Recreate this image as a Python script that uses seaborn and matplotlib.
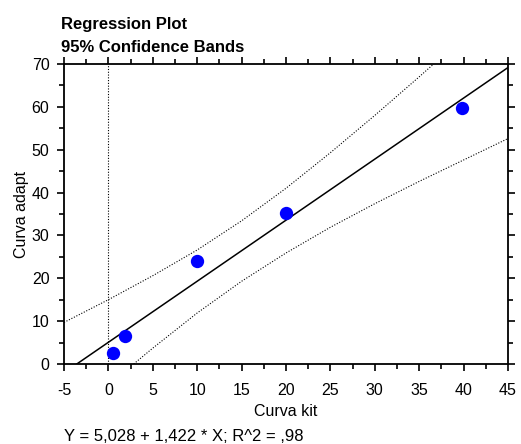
"""
Regression plot with 95% confidence bands (Curva kit vs Curva adapt)
"""
import matplotlib
matplotlib.use('Agg')
import matplotlib.pyplot as plt
from matplotlib.ticker import MultipleLocator
import pandas as pd
import seaborn as sns

# measured points
curva_kit = [0.5, 1.85, 10.0, 20.0, 39.8]
curva_adapt = [2.5, 6.5, 24.0, 35.3, 59.8]

# confidence bands
band_x = [-5, 0, 5, 10, 15, 20, 25, 30, 35, 40, 45]
band_upper = [9.7, 15.0, 20.6, 26.6, 33.4, 41.0, 49.3, 58.0, 67.0, 76.2, 85.4]
band_lower = [-13.9, -4.9, 3.7, 11.9, 19.3, 25.9, 31.9, 37.4, 42.6, 47.6, 52.6]

caption = 'Y = 5,028 + 1,422 * X; R^2 = ,98'

sns.set_style('ticks')
plt.rcParams['font.family'] = ['Liberation Sans', 'DejaVu Sans']
plt.rcParams['axes.unicode_minus'] = False
plt.rcParams['text.color'] = 'black'
plt.rcParams['axes.labelcolor'] = 'black'

df = pd.DataFrame({'Curva kit': curva_kit, 'Curva adapt': curva_adapt})
bands = pd.DataFrame({'x': band_x, 'upper': band_upper, 'lower': band_lower})

fig = plt.figure(figsize=(5.21, 4.44), dpi=100)
ax = fig.add_axes([0.1228, 0.1802, 0.8522, 0.6757])
ax.set_xlim(-5, 45)
ax.set_ylim(0, 70)

ax.axvline(0, color='black', lw=0.8, ls=(0, (1, 1.5)), zorder=1)

sns.regplot(data=df, x='Curva kit', y='Curva adapt', ax=ax, ci=None, truncate=False,
            scatter_kws={'s': 92, 'color': '#0000ff', 'alpha': 1, 'zorder': 3, 'linewidths': 0},
            line_kws={'color': 'black', 'lw': 1.1, 'zorder': 2})
sns.lineplot(data=bands, x='x', y='upper', ax=ax, color='black', lw=0.8, ls=(0, (1, 1.5)))
sns.lineplot(data=bands, x='x', y='lower', ax=ax, color='black', lw=0.8, ls=(0, (1, 1.5)))
ax.set_xlim(-5, 45)
ax.set_ylim(0, 70)

ax.xaxis.set_major_locator(MultipleLocator(5))
ax.xaxis.set_minor_locator(MultipleLocator(2.5))
ax.yaxis.set_major_locator(MultipleLocator(10))
ax.yaxis.set_minor_locator(MultipleLocator(5))
ax.tick_params(which='both', direction='out', top=True, right=True, width=1.2,
               color='black', labelsize=11.5, labelcolor='black')
ax.tick_params(which='major', length=5)
ax.tick_params(which='minor', length=3.5)
ax.tick_params(axis='x', which='major', pad=9)
ax.tick_params(axis='y', which='major', pad=5.5)
for s in ax.spines.values():
    s.set_linewidth(1.3)
    s.set_color('black')

ax.set_xlabel('Curva kit', fontsize=11.5, labelpad=4, color='black')
ax.set_ylabel('Curva adapt', fontsize=11.5, labelpad=2, color='black')

fig.text(0.117, 0.934, 'Regression Plot', fontsize=12, color='black',
         fontweight='bold', ha='left', va='baseline')
fig.text(0.117, 0.8836, '95% Confidence Bands', fontsize=12, color='black',
         fontweight='bold', ha='left', va='baseline')
fig.text(0.123, 0.0068, caption, fontsize=12, ha='left', va='baseline', color='black')

plt.savefig('out.png', dpi=100)
